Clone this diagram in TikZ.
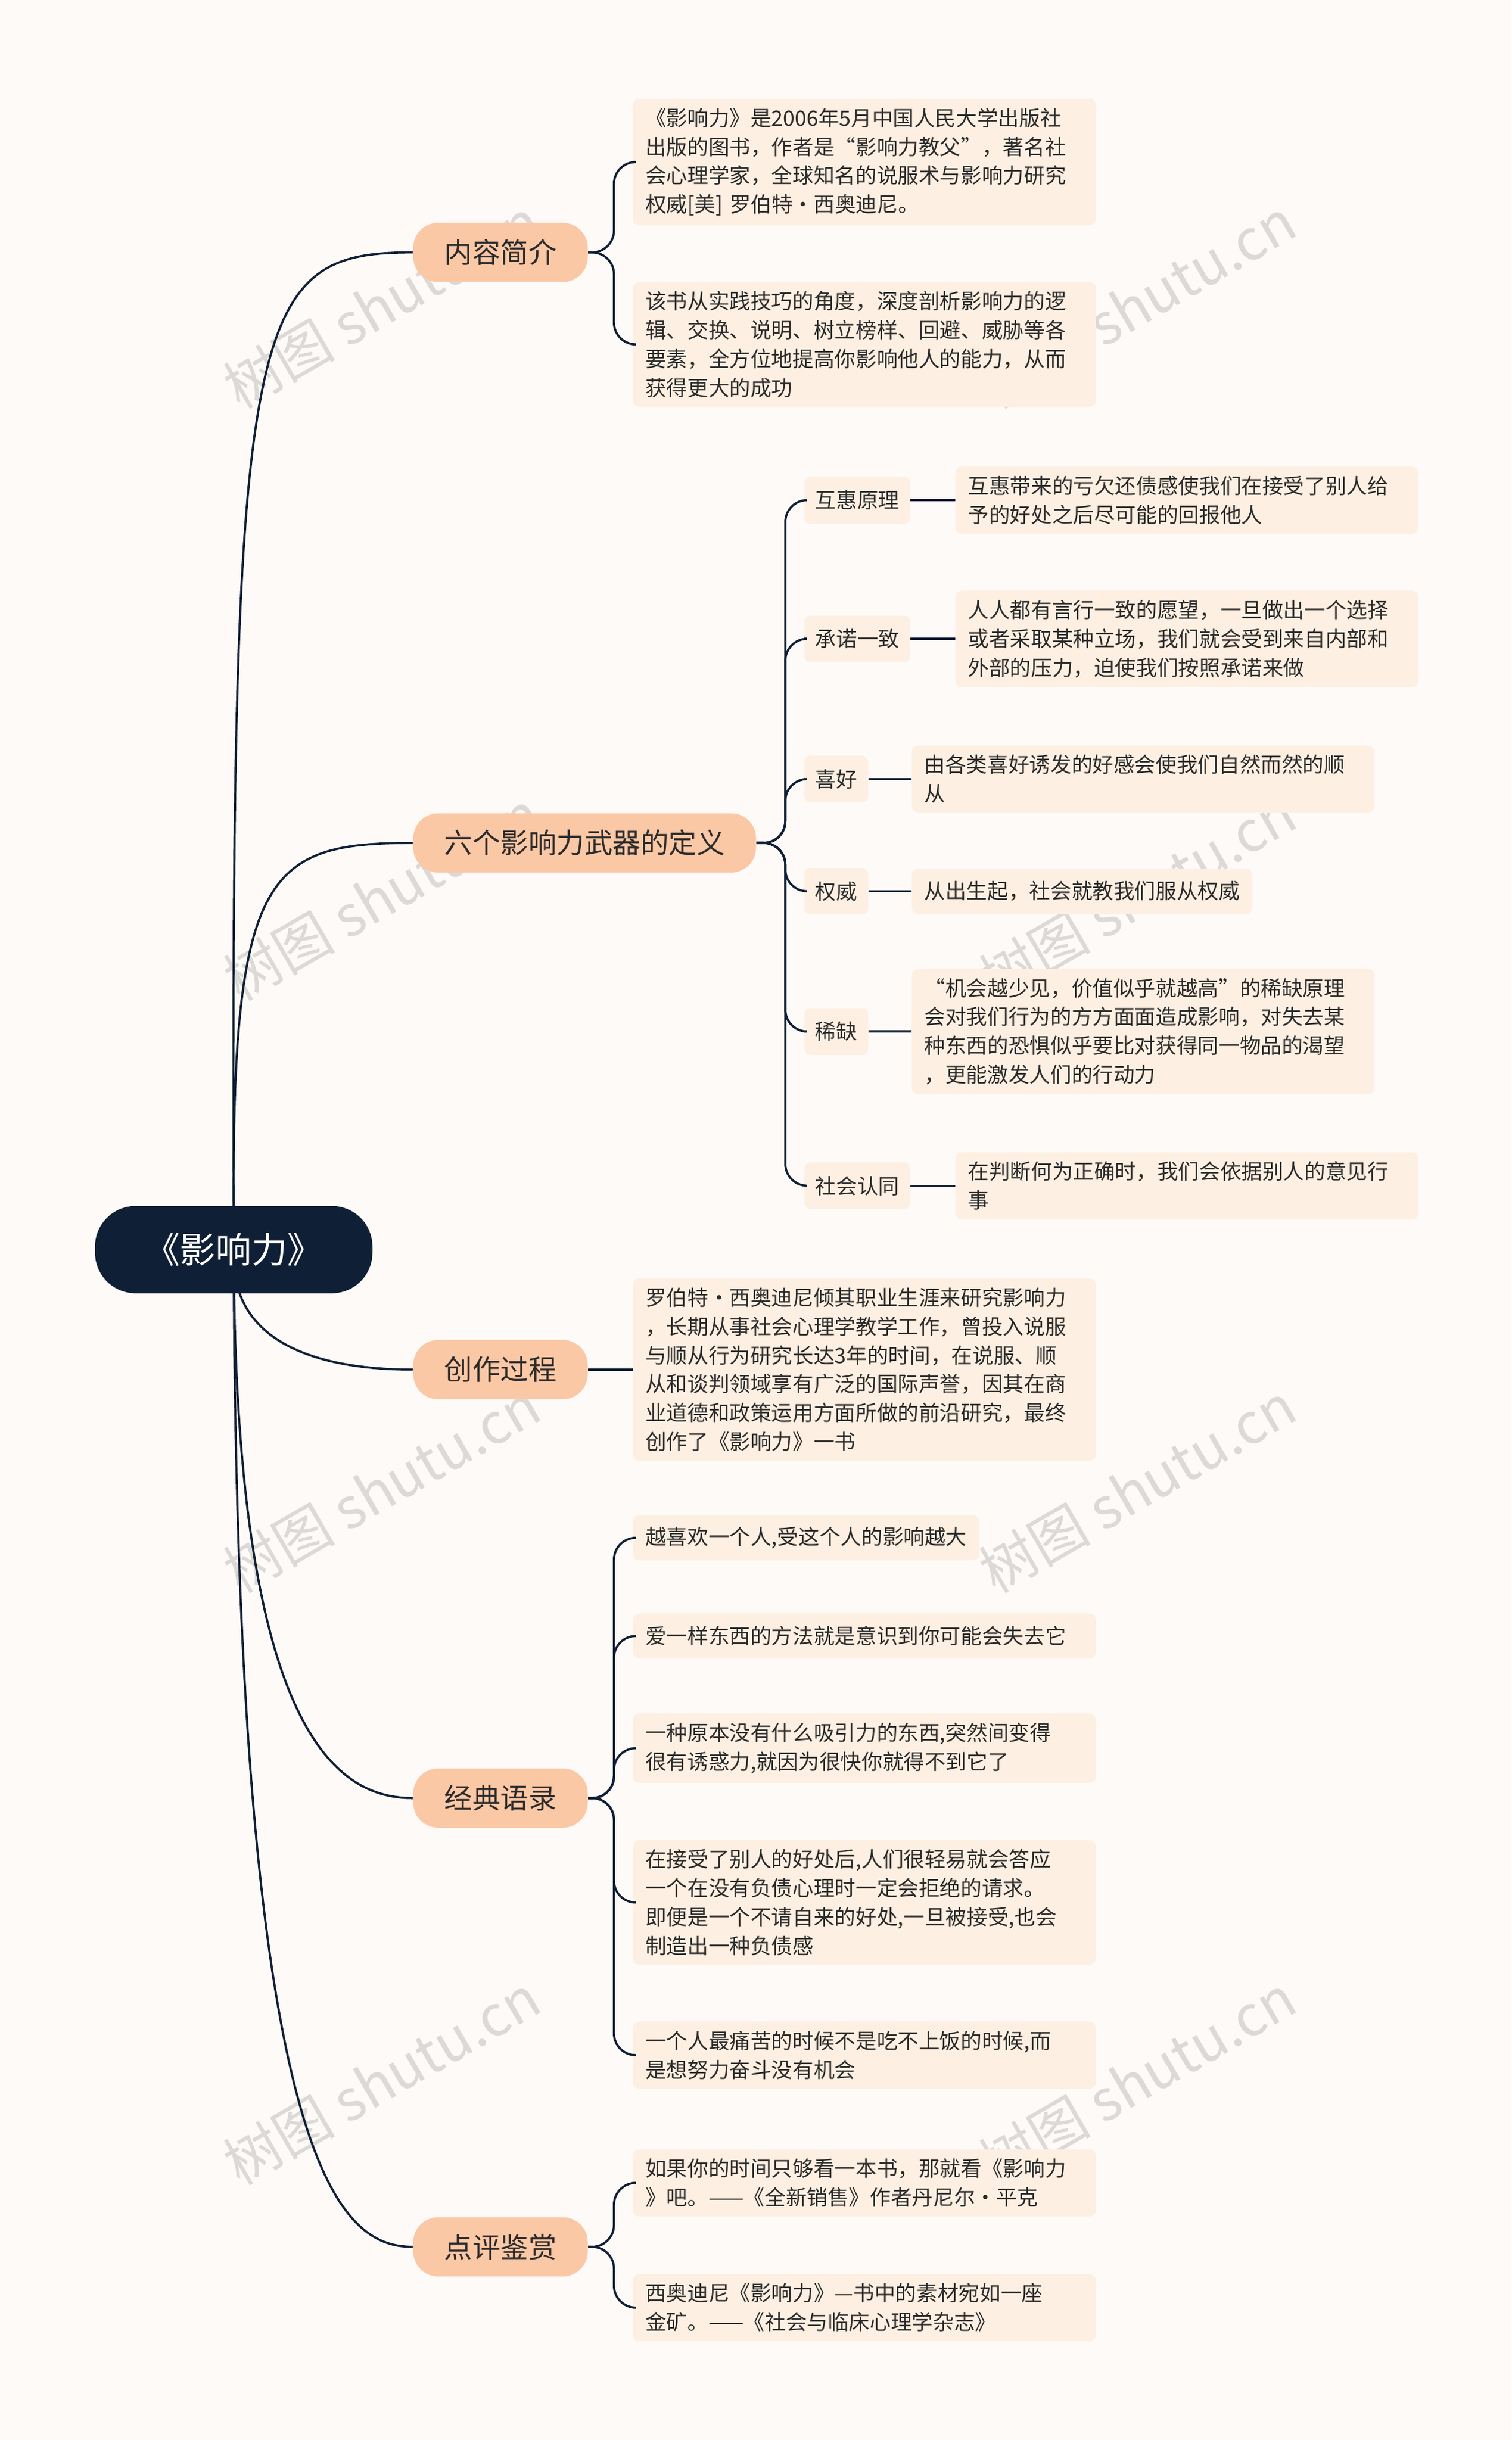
\documentclass[tikz,border=0pt]{standalone}
\usepackage{fontspec}
\setmainfont{Noto Sans CJK SC}
\usetikzlibrary{positioning}
\definecolor{bg}{HTML}{FDFAF7}
\definecolor{navy}{HTML}{0F1F35}
\definecolor{peach}{HTML}{FBC8A6}
\definecolor{leaff}{HTML}{FDF0E2}
\definecolor{txt}{HTML}{2B2B2B}
\definecolor{wm}{HTML}{DCD9D6}
\begin{document}
\begin{tikzpicture}[x=1pt,y=-1pt,
 rootbox/.style={fill=navy,text=white,rounded corners=26pt,minimum width=178pt,minimum height=56pt,font=\fontsize{23}{26}\selectfont},
 lone/.style={fill=peach,text=txt,rounded corners=16pt,minimum height=38pt,inner xsep=20pt,font=\fontsize{18}{21}\selectfont},
 ltwo/.style={fill=leaff,text=txt,rounded corners=4pt,minimum height=30pt,inner xsep=7pt,font=\fontsize{13.5}{18.5}\selectfont},
 leafbox/.style={fill=leaff,text=txt,rounded corners=4pt,align=left,anchor=west,inner xsep=8pt,inner ysep=6pt,minimum height=29pt,font=\fontsize{13.5}{18.5}\selectfont},
 conn/.style={draw=navy,line width=1.4pt},
 wmark/.style={text=wm,rotate=30,font=\fontsize{36}{36}\selectfont}]
\fill[bg] (0,0) rectangle (970,1566);
\useasboundingbox (0,0) rectangle (970,1566);
\foreach \x/\y in {245/195,245/575,245/955,245/1335,730/195,730/575,730/955,730/1335}
  \node[wmark] at (\x,\y) {树图 shutu.cn};
\node[lone,anchor=west] (a) at (265,162) {内容简介};
\node[lone,anchor=west] (b) at (265,541) {六个影响力武器的定义};
\node[lone,anchor=west] (c) at (265,879) {创作过程};
\node[lone,anchor=west] (d) at (265,1154) {经典语录};
\node[lone,anchor=west] (e) at (265,1442) {点评鉴赏};
\draw[conn] (150,790) .. controls (148,200) and (160,162) .. (a.west);
\draw[conn] (150,790) .. controls (148,560) and (170,541) .. (b.west);
\draw[conn] (150,810) .. controls (152,860) and (200,879) .. (c.west);
\draw[conn] (150,810) .. controls (152,1120) and (220,1154) .. (d.west);
\draw[conn] (150,810) .. controls (152,1400) and (220,1442) .. (e.west);
\node[rootbox] (root) at (150,802) {《影响力》};
\node[leafbox,text width=281pt] (a1) at (406,104) {《影响力》是2006年5月中国人民大学出版社\\出版的图书，作者是“影响力教父”，著名社\\会心理学家，全球知名的说服术与影响力研究\\权威[美] 罗伯特·西奥迪尼。};
\node[leafbox,text width=281pt] (a2) at (406,221) {该书从实践技巧的角度，深度剖析影响力的逻\\辑、交换、说明、树立榜样、回避、威胁等各\\要素，全方位地提高你影响他人的能力，从而\\获得更大的成功};
\foreach \l in {a1,a2} \draw[conn,rounded corners=14pt] (a.east) -- (394,162) |- (\l.west);
\node[ltwo,anchor=west] (b1) at (516,321) {互惠原理};
\node[ltwo,anchor=west] (b2) at (516,410) {承诺一致};
\node[ltwo,anchor=west] (b3) at (516,500) {喜好};
\node[ltwo,anchor=west] (b4) at (516,572) {权威};
\node[ltwo,anchor=west] (b5) at (516,662) {稀缺};
\node[ltwo,anchor=west] (b6) at (516,761) {社会认同};
\foreach \l in {b1,b2,b3,b4,b5,b6} \draw[conn,rounded corners=14pt] (b.east) -- (504,541) |- (\l.west);
\node[leafbox,text width=281pt] (c1) at (613,321) {互惠带来的亏欠还债感使我们在接受了别人给\\予的好处之后尽可能的回报他人};
\node[leafbox,text width=281pt] (c2) at (613,410) {人人都有言行一致的愿望，一旦做出一个选择\\或者采取某种立场，我们就会受到来自内部和\\外部的压力，迫使我们按照承诺来做};
\node[leafbox,text width=281pt] (c3) at (585,500) {由各类喜好诱发的好感会使我们自然而然的顺\\从};
\node[leafbox] (c4) at (585,572) {从出生起，社会就教我们服从权威};
\node[leafbox,text width=281pt] (c5) at (585,662) {“机会越少见，价值似乎就越高”的稀缺原理\\会对我们行为的方方面面造成影响，对失去某\\种东西的恐惧似乎要比对获得同一物品的渴望\\，更能激发人们的行动力};
\node[leafbox,text width=281pt] (c6) at (613,761) {在判断何为正确时，我们会依据别人的意见行\\事};
\foreach \i in {1,...,6} \draw[conn] (b\i.east) -- (c\i.west);
\node[leafbox,text width=281pt] (d1) at (406,879) {罗伯特·西奥迪尼倾其职业生涯来研究影响力\\，长期从事社会心理学教学工作，曾投入说服\\与顺从行为研究长达3年的时间，在说服、顺\\从和谈判领域享有广泛的国际声誉，因其在商\\业道德和政策运用方面所做的前沿研究，最终\\创作了《影响力》一书};
\draw[conn] (c.east) -- (d1.west);
\node[leafbox] (e1) at (406,987) {越喜欢一个人,受这个人的影响越大};
\node[leafbox,text width=281pt] (e2) at (406,1050) {爱一样东西的方法就是意识到你可能会失去它};
\node[leafbox,text width=281pt] (e3) at (406,1122) {一种原本没有什么吸引力的东西,突然间变得\\很有诱惑力,就因为很快你就得不到它了};
\node[leafbox,text width=281pt] (e4) at (406,1221) {在接受了别人的好处后,人们很轻易就会答应\\一个在没有负债心理时一定会拒绝的请求。\\即便是一个不请自来的好处,一旦被接受,也会\\制造出一种负债感};
\node[leafbox,text width=281pt] (e5) at (406,1319) {一个人最痛苦的时候不是吃不上饭的时候,而\\是想努力奋斗没有机会};
\foreach \l in {e1,e2,e3,e4,e5} \draw[conn,rounded corners=14pt] (d.east) -- (394,1154) |- (\l.west);
\node[leafbox,text width=281pt] (f1) at (406,1401) {如果你的时间只够看一本书，那就看《影响力\\》吧。——《全新销售》作者丹尼尔·平克};
\node[leafbox,text width=281pt] (f2) at (406,1481) {西奥迪尼《影响力》—书中的素材宛如一座\\金矿。——《社会与临床心理学杂志》};
\foreach \l in {f1,f2} \draw[conn,rounded corners=14pt] (e.east) -- (394,1442) |- (\l.west);
\end{tikzpicture}
\end{document}
